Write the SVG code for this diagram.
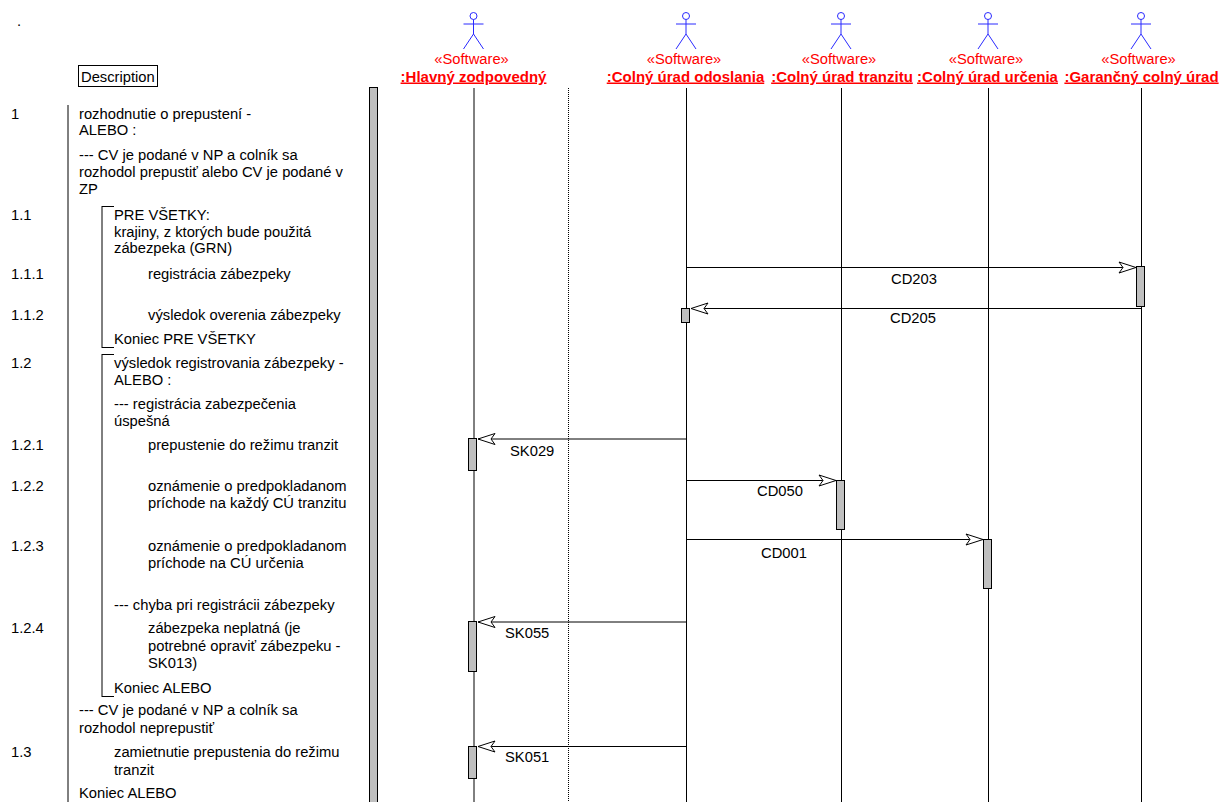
<svg xmlns="http://www.w3.org/2000/svg" width="1219" height="802" viewBox="0 0 1219 802">
<defs>
<marker id="ah" markerUnits="userSpaceOnUse" markerWidth="20" markerHeight="14" refX="18" refY="7" orient="auto" overflow="visible"><path d="M1 1.500 L18 7 L1 12.500 L5 7 Z" fill="#fff" stroke="#000" stroke-width="1"/></marker>
<g id="actor" fill="none" stroke="#2a2aff" stroke-width="1"><circle cx="0" cy="-4" r="3.500"/><path d="M0 -0.500 V14 M-10 4 H10 M0 14 L-10 29 M0 14 L10 29"/></g>
</defs>
<style>
text{font-family:"Liberation Sans",Arial,sans-serif;font-size:14.750px;fill:#000}
.s{fill:#f00;text-anchor:middle}
.n{fill:#f00;text-anchor:middle;font-weight:bold;font-size:15px;text-decoration:underline}
.l{stroke:#000;stroke-width:1;fill:none}
.a{fill:#bfbfbf;stroke:#000;stroke-width:1}
</style>
<rect width="1219" height="802" fill="#fff"/>
<text x="17" y="26">.</text>
<g id="description"><rect x="78.500" y="65.500" width="79" height="21" fill="#fff" stroke="#000"/><text x="81" y="82">Description</text></g>
<g id="frame" class="l"><path d="M68 105V802"/><path d="M102 206.500H114M102 347.500H114M102 206V348"/><path d="M102 354.500H114M102 696.500H114M102 354V697"/></g>
<rect id="bar" x="369.500" y="87.500" width="8" height="715" class="a"/>
<g id="lifeline-hlavny"><use href="#actor" x="473.500" y="20"/><text class="s" x="471.500" y="64">«Software»</text><text class="n" x="473.500" y="81.500">:Hlavný zodpovedný</text><path class="l" d="M474 88V802"/></g>
<g id="lifeline-odoslania"><use href="#actor" x="686" y="20"/><text class="s" x="684" y="64">«Software»</text><text class="n" x="685.500" y="81.500">:Colný úrad odoslania</text><path class="l" d="M686.500 88V802"/></g>
<g id="lifeline-tranzitu"><use href="#actor" x="841" y="20"/><text class="s" x="839" y="64">«Software»</text><text class="n" x="842" y="81.500">:Colný úrad tranzitu</text><path class="l" d="M841.500 88V802"/></g>
<g id="lifeline-urcenia"><use href="#actor" x="988" y="20"/><text class="s" x="986" y="64">«Software»</text><text class="n" x="987.500" y="81.500">:Colný úrad určenia</text><path class="l" d="M988.500 88V802"/></g>
<g id="lifeline-garancny"><use href="#actor" x="1141" y="20"/><text class="s" x="1138.500" y="64">«Software»</text><text class="n" x="1141.500" y="81.500">:Garančný colný úrad</text><path class="l" d="M1141.500 88V802"/></g>
<path d="M568.500 88V802" stroke="#000" stroke-width="1" stroke-dasharray="1 1" fill="none"/>
<g id="activations">
<rect class="a" x="1136.500" y="266.500" width="8" height="40"/><rect class="a" x="681.500" y="308.500" width="8" height="14"/>
<rect class="a" x="468.500" y="438.500" width="8" height="32"/><rect class="a" x="836.500" y="480.500" width="8" height="49"/>
<rect class="a" x="983.500" y="539.500" width="8" height="49"/><rect class="a" x="468.500" y="621.500" width="8" height="50"/><rect class="a" x="468.500" y="746.500" width="8" height="32"/>
</g>
<g id="connectors" class="l">
<path marker-end="url(#ah)" d="M686 267.500H1136"/>
<path marker-end="url(#ah)" d="M1141 308.500H691"/>
<path marker-end="url(#ah)" d="M686 439H478"/>
<path marker-end="url(#ah)" d="M686 480.500H836"/>
<path marker-end="url(#ah)" d="M686 539.500H983"/>
<path marker-end="url(#ah)" d="M686 622H478"/>
<path marker-end="url(#ah)" d="M686 746.500H478"/>
</g>
<g id="messages">
<text x="891" y="284">CD203</text><text x="890" y="323">CD205</text><text x="510" y="456">SK029</text><text x="757" y="496">CD050</text><text x="761" y="558">CD001</text><text x="505" y="638">SK055</text><text x="505" y="762">SK051</text>
</g>
<g id="steps">
<text x="11" y="119">1</text><text x="11" y="220">1.1</text><text x="11" y="279">1.1.1</text><text x="11" y="320">1.1.2</text><text x="11" y="368">1.2</text><text x="11" y="450">1.2.1</text><text x="11" y="491">1.2.2</text><text x="11" y="551">1.2.3</text><text x="11" y="633">1.2.4</text><text x="11" y="757">1.3</text>
<text x="79" y="119">rozhodnutie o prepustení -</text><text x="79" y="135">ALEBO :</text>
<text x="79" y="160">--- CV je podané v NP a colník sa</text><text x="79" y="177">rozhodol prepustiť alebo CV je podané v</text><text x="79" y="194">ZP</text>
<text x="114" y="220">PRE VŠETKY:</text><text x="114" y="237">krajiny, z ktorých bude použitá</text><text x="114" y="253">zábezpeka (GRN)</text>
<text x="148" y="279">registrácia zábezpeky</text><text x="148" y="320">výsledok overenia zábezpeky</text>
<text x="114" y="344">Koniec PRE VŠETKY</text>
<text x="114" y="368">výsledok registrovania zábezpeky -</text><text x="114" y="385">ALEBO :</text>
<text x="114" y="409">--- registrácia zabezpečenia</text><text x="114" y="426">úspešná</text>
<text x="148" y="450">prepustenie do režimu tranzit</text>
<text x="148" y="491">oznámenie o predpokladanom</text><text x="148" y="508">príchode na každý CÚ tranzitu</text>
<text x="148" y="551">oznámenie o predpokladanom</text><text x="148" y="568">príchode na CÚ určenia</text>
<text x="114" y="610">--- chyba pri registrácii zábezpeky</text>
<text x="148" y="633">zábezpeka neplatná (je</text><text x="148" y="651">potrebné opraviť zábezpeku -</text><text x="148" y="668">SK013)</text>
<text x="114" y="693">Koniec ALEBO</text>
<text x="79" y="715">--- CV je podané v NP a colník sa</text><text x="79" y="733">rozhodol neprepustiť</text>
<text x="114" y="757">zamietnutie prepustenia do režimu</text><text x="114" y="775">tranzit</text>
<text x="79" y="798">Koniec ALEBO</text>
</g>
</svg>
